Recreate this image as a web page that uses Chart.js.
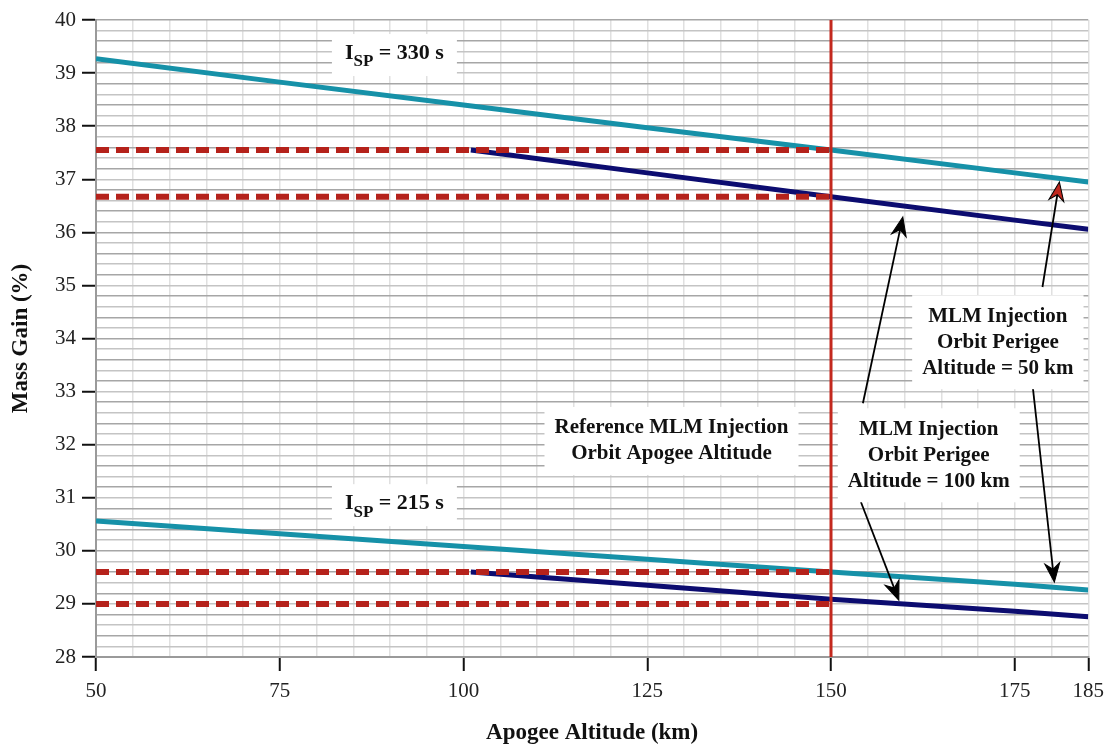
<!DOCTYPE html>
<html>
<head>
<meta charset="utf-8">
<script src="https://cdn.jsdelivr.net/npm/chart.js@4"></script>
<style>
  html, body { margin: 0; padding: 0; background: #fff; }
  #wrap { width: 1112px; height: 745px; }
</style>
</head>
<body>
<div id="wrap"><canvas id="massGainChart" width="1112" height="745"></canvas></div>
<script>
// Apogee altitude samples (km)
const apogee = [50, 75, 100, 125, 150, 175, 185];
const apogeeFrom100 = [101, 125, 150, 175, 185];

// Mass gain (%)
const gain330Perigee50 = [39.27, 38.83, 38.40, 37.97, 37.55, 37.12, 36.95];
const gain330Perigee100 = [37.55, 37.12, 36.67, 36.23, 36.06];
const gain215Perigee50 = [30.56, 30.32, 30.08, 29.84, 29.60, 29.37, 29.26];
const gain215Perigee100 = [29.60, 29.35, 29.09, 28.86, 28.76];

// Reference apogee and the gains read at it
const refApogee = 150;
const refGains = [37.55, 36.67, 29.60, 29.00];

// Axis ticks
const xLabels = [50, 75, 100, 125, 150, 175, 185];
const yMin = 28, yMax = 40;

const SERIF = "'Liberation Serif', 'DejaVu Serif', serif";
const CYAN = "#1691a8";
const NAVY = "#0c0c70";
const RED = "#b5221b";

const pts = (xs, ys) => xs.map((x, i) => ({ x, y: ys[i] }));

// Annotations (data coordinates)
const labels = [
    { x: 90.6, y: 39.34, isp: "330" },
    { x: 90.6, y: 30.86, isp: "215" },
    { x: 128.3, y: 32.07, lines: ["Reference MLM Injection", "Orbit Apogee Altitude"] },
    { x: 163.3, y: 31.8, lines: ["MLM Injection", "Orbit Perigee", "Altitude = 100 km"] },
    { x: 172.7, y: 33.93, lines: ["MLM Injection", "Orbit Perigee", "Altitude = 50 km"] }
];
const arrows = [
    { from: [154.34, 32.78], to: [159.77, 36.29], head: "#000" },
    { from: [154.07, 30.92], to: [159.23, 29.07], head: "#000" },
    { from: [178.77, 34.97], to: [181.07, 36.95], head: "#c0281e" },
    { from: [177.41, 33.14], to: [180.39, 29.41], head: "#000" }
];

const isInt = v => Math.abs(v - Math.round(v)) < 1e-6;

const datasets = [
    { data: pts(apogee, gain330Perigee50), borderColor: CYAN, borderWidth: 5, order: 5 },
    { data: pts(apogeeFrom100, gain330Perigee100), borderColor: NAVY, borderWidth: 5, order: 4 },
    { data: pts(apogee, gain215Perigee50), borderColor: CYAN, borderWidth: 5, order: 5 },
    { data: pts(apogeeFrom100, gain215Perigee100), borderColor: NAVY, borderWidth: 5, order: 4 }
];
refGains.forEach(g => {
    datasets.push({
        data: [{ x: apogee[0], y: g }, { x: refApogee, y: g }],
        borderColor: RED, borderWidth: 6, borderDash: [13, 7], order: 2
    });
});
datasets.push({
    data: [{ x: refApogee, y: yMin }, { x: refApogee, y: yMax }],
    borderColor: "#c3281e", borderWidth: 3, order: 1
});

function drawArrowHead(ctx, x1, y1, x2, y2, fill) {
    const ang = Math.atan2(y2 - y1, x2 - x1);
    const len = 19, half = 7.5, notch = 6;
    ctx.save();
    ctx.translate(x2, y2);
    ctx.rotate(ang);
    ctx.beginPath();
    ctx.moveTo(0, 0);
    ctx.lineTo(-len, -half);
    ctx.lineTo(-len + notch, 0);
    ctx.lineTo(-len, half);
    ctx.closePath();
    ctx.fillStyle = fill;
    ctx.fill();
    ctx.lineWidth = 1;
    ctx.strokeStyle = "#000";
    ctx.stroke();
    ctx.restore();
}

const notesPlugin = {
    id: "notes",
    afterDraw(chart) {
        const { ctx, scales: { x, y } } = chart;
        ctx.save();

        // arrows
        arrows.forEach(a => {
            const x1 = x.getPixelForValue(a.from[0]), y1 = y.getPixelForValue(a.from[1]);
            const x2 = x.getPixelForValue(a.to[0]), y2 = y.getPixelForValue(a.to[1]);
            const ang = Math.atan2(y2 - y1, x2 - x1);
            ctx.beginPath();
            ctx.moveTo(x1, y1);
            ctx.lineTo(x2 - Math.cos(ang) * 13, y2 - Math.sin(ang) * 13);
            ctx.strokeStyle = "#000";
            ctx.lineWidth = 1.8;
            ctx.stroke();
            drawArrowHead(ctx, x1, y1, x2, y2, a.head);
        });

        // text boxes
        ctx.textBaseline = "middle";
        labels.forEach(l => {
            const cx = x.getPixelForValue(l.x), cy = y.getPixelForValue(l.y);
            if (l.isp) {
                const big = "bold 22px " + SERIF, small = "bold 17px " + SERIF;
                ctx.font = big;
                const wI = ctx.measureText("I").width;
                const rest = " = " + l.isp + " s";
                const wR = ctx.measureText(rest).width;
                ctx.font = small;
                const wS = ctx.measureText("SP").width;
                const w = wI + wS + wR;
                ctx.fillStyle = "#fff";
                ctx.fillRect(cx - w / 2 - 13, cy - 21, w + 26, 42);
                ctx.fillStyle = "#111";
                let px = cx - w / 2;
                ctx.textAlign = "left";
                ctx.font = big;
                ctx.fillText("I", px, cy - 2);
                px += wI;
                ctx.font = small;
                ctx.fillText("SP", px, cy + 7);
                px += wS;
                ctx.font = big;
                ctx.fillText(rest, px, cy - 2);
            } else {
                ctx.font = "bold 21px " + SERIF;
                const lh = 26;
                const w = Math.max(...l.lines.map(s => ctx.measureText(s).width));
                const h = l.lines.length * lh;
                ctx.fillStyle = "#fff";
                ctx.fillRect(cx - w / 2 - 10, cy - h / 2 - 8, w + 20, h + 16);
                ctx.fillStyle = "#111";
                ctx.textAlign = "center";
                l.lines.forEach((s, i) => {
                    ctx.fillText(s, cx, cy - h / 2 + lh * (i + 0.5));
                });
            }
        });
        ctx.restore();
    }
};

new Chart(document.getElementById("massGainChart"), {
    type: "line",
    data: { datasets },
    plugins: [notesPlugin],
    options: {
        responsive: false,
        animation: false,
        layout: { padding: { top: 20, right: 21, left: 0, bottom: 0 } },
        elements: {
            point: { radius: 0 },
            line: { tension: 0, borderCapStyle: "butt", fill: false }
        },
        plugins: {
            legend: { display: false },
            tooltip: { enabled: false }
        },
        scales: {
            x: {
                type: "linear",
                min: 50,
                max: 185,
                afterFit: s => { s.height = 88; },
                border: { color: "#9a9a9a", width: 2 },
                grid: {
                    color: "#e0e0e0",
                    lineWidth: 1.5,
                    tickLength: 14,
                    tickWidth: 2,
                    tickColor: c => (c.tick && isInt(c.tick.value) && xLabels.includes(Math.round(c.tick.value)) ? "#111" : "rgba(0,0,0,0)")
                },
                ticks: {
                    stepSize: 5,
                    autoSkip: false,
                    maxRotation: 0,
                    padding: 8,
                    color: "#222",
                    font: { family: SERIF, size: 21 },
                    callback: v => (xLabels.includes(v) ? String(v) : "")
                },
                title: {
                    display: true,
                    text: "Apogee Altitude (km)",
                    color: "#111",
                    font: { family: SERIF, size: 23, weight: "bold", lineHeight: 1 },
                    padding: { top: 0, bottom: 0 }
                }
            },
            y: {
                min: yMin,
                max: yMax,
                afterFit: s => { s.width = 96; },
                border: { color: "#9a9a9a", width: 2 },
                grid: {
                    color: c => (c.index % 2 === 0 ? "#a6a6a6" : "#c4c4c4"),
                    lineWidth: 1.5,
                    tickLength: 14,
                    tickWidth: 2,
                    tickColor: c => (c.tick && isInt(c.tick.value) ? "#111" : "rgba(0,0,0,0)")
                },
                ticks: {
                    stepSize: 0.2,
                    autoSkip: false,
                    padding: 6,
                    color: "#222",
                    font: { family: SERIF, size: 21 },
                    callback: v => (isInt(v) ? String(Math.round(v)) : "")
                },
                title: {
                    display: true,
                    text: "Mass Gain (%)",
                    color: "#111",
                    font: { family: SERIF, size: 23, weight: "bold", lineHeight: 1 },
                    padding: { top: 10, bottom: 0 }
                }
            }
        }
    }
});
</script>
</body>
</html>
